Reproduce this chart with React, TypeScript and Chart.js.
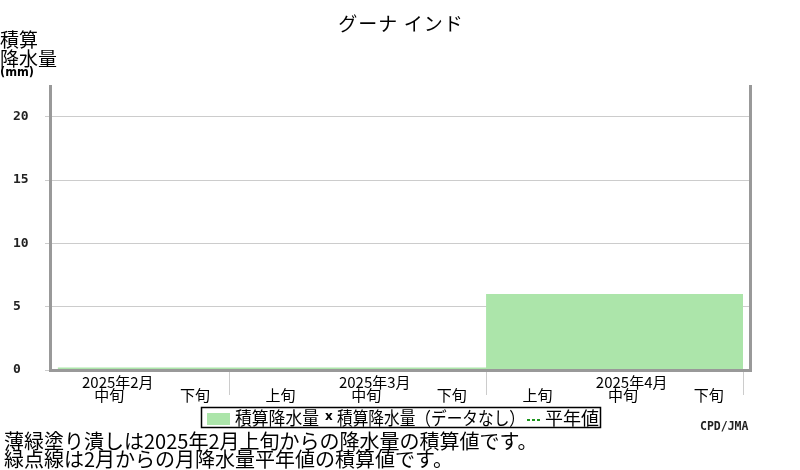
import React, { useEffect, useRef } from "react";
import { Chart, registerables } from "chart.js";

Chart.register(...registerables);

// 2025年2月上旬〜4月下旬の旬ごとの積算降水量 (mm)
const months = ["2025年2月", "2025年3月", "2025年4月"];
const dekads = ["上旬", "中旬", "下旬"];
const accumRain = [0, 0.2, 0.2, 0.2, 0.2, 0.2, 6, 6, 6];
const yTicks = [0, 5, 10, 15, 20];
const monthEdges = [3, 6, 9];

const GREEN = "#ace5aa";
const FRAME = "#999999";
const GRID = "#cccccc";
const JP = '"Noto Sans CJK JP", "Noto Sans", sans-serif';

const jmaPlugin = {
  id: "jmaText",
  afterDatasetsDraw(chart: any) {
    const { ctx, chartArea: a } = chart;
    ctx.save();
    ctx.strokeStyle = FRAME;
    ctx.lineWidth = 3;
    ctx.beginPath();
    ctx.moveTo(a.left - 0.5, a.top);
    ctx.lineTo(a.left - 0.5, a.bottom + 0.5);
    ctx.lineTo(a.right + 1.5, a.bottom + 0.5);
    ctx.lineTo(a.right + 1.5, a.top);
    ctx.stroke();
    ctx.restore();
  },
  afterDraw(chart: any) {
    const { ctx, chartArea: a } = chart;
    const x = chart.scales.x;
    ctx.save();
    ctx.fillStyle = "#000";
    ctx.textBaseline = "middle";

    // title
    ctx.font = `19px ${JP}`;
    ctx.textAlign = "center";
    ctx.letterSpacing = "1px";
    ctx.fillText("グーナ インド", 401, 24);
    ctx.letterSpacing = "0px";

    // y title
    ctx.textAlign = "left";
    ctx.font = `19px ${JP}`;
    ctx.fillText("積算", 0, 40);
    ctx.fillText("降水量", 0, 59);
    ctx.font = 'bold 12px "DejaVu Sans"';
    ctx.fillText("(mm)", 0, 73, 34);

    // x labels
    ctx.font = `15px ${JP}`;
    ctx.textAlign = "center";
    months.forEach((m, mi) => {
      ctx.fillText(m, x.getPixelForValue(mi * 3 + 1.7), 382);
      dekads.forEach((d, di) => {
        const px = x.getPixelForValue(mi * 3 + di + 0.6);
        if (px - 15 < a.left || px > a.right) return;
        ctx.fillText(d, px, 395);
      });
    });

    // legend
    ctx.strokeStyle = "#000";
    ctx.lineWidth = 1.5;
    ctx.strokeRect(201.5, 407.5, 399, 20);
    ctx.fillStyle = GREEN;
    ctx.fillRect(207, 413, 23, 12);
    ctx.fillStyle = "#000";
    ctx.textAlign = "left";
    ctx.font = `18px ${JP}`;
    ctx.fillText("積算降水量", 235, 418, 84);
    ctx.fillText("積算降水量（データなし）", 337, 418, 188);
    ctx.fillText("平年値", 545, 418, 56);
    ctx.font = 'bold 12px "DejaVu Sans"';
    ctx.fillText("x", 325, 417);
    ctx.strokeStyle = "#1e961e";
    ctx.lineWidth = 2;
    ctx.setLineDash([3, 2]);
    ctx.beginPath();
    ctx.moveTo(527, 420);
    ctx.lineTo(541, 420);
    ctx.stroke();
    ctx.setLineDash([]);

    // credit
    ctx.font = 'bold 11.5px "DejaVu Sans Mono"';
    ctx.fillStyle = "#222";
    ctx.fillText("CPD/JMA", 700, 427);

    // notes
    ctx.fillStyle = "#000";
    ctx.font = `20px ${JP}`;
    ctx.fillText("薄緑塗り潰しは2025年2月上旬からの降水量の積算値です。", 4, 441);
    ctx.fillText("緑点線は2月からの月降水量平年値の積算値です。", 4, 459);
    ctx.restore();
  },
};

const App = () => {
  const canvasRef = useRef<HTMLCanvasElement>(null);

  useEffect(() => {
    if (!canvasRef.current) return;
    const points = accumRain.map((v, i) => ({ x: i, y: v }));
    points.push({ x: accumRain.length, y: accumRain[accumRain.length - 1] });

    const chart = new Chart(canvasRef.current, {
      type: "line",
      data: {
        datasets: [
          {
            label: "積算降水量",
            data: points,
            stepped: "before",
            fill: "origin",
            backgroundColor: GREEN,
            borderWidth: 0,
            pointRadius: 0,
          },
        ],
      },
      options: {
        responsive: false,
        animation: false,
        layout: { padding: { left: 13, top: 85, right: 51, bottom: 0 } },
        plugins: { legend: { display: false }, tooltip: { enabled: false } },
        scales: {
          x: {
            type: "linear",
            min: 0.92,
            max: 9.07,
            afterBuildTicks: (s: any) => {
              s.ticks = monthEdges.map((v) => ({ value: v }));
            },
            afterFit: (s: any) => {
              s.height = 100;
            },
            ticks: { display: false },
            grid: { drawOnChartArea: false, tickLength: 25, color: GRID },
            border: { display: false },
          },
          y: {
            min: 0,
            max: 22.5,
            afterBuildTicks: (s: any) => {
              s.ticks = yTicks.map((v) => ({ value: v }));
            },
            afterFit: (s: any) => {
              s.width = 38;
            },
            ticks: {
              crossAlign: "far",
              color: "#222",
              font: { family: "DejaVu Sans Mono", size: 13, weight: "bold" },
            },
            grid: { color: GRID, tickLength: 6 },
            border: { display: false },
          },
        },
      },
      plugins: [jmaPlugin],
    });
    return () => chart.destroy();
  }, []);

  return (
    <div style={{ position: "absolute", left: 0, top: 0, width: 800, height: 470 }}>
      <canvas ref={canvasRef} width={800} height={470} />
    </div>
  );
};

export default App;
